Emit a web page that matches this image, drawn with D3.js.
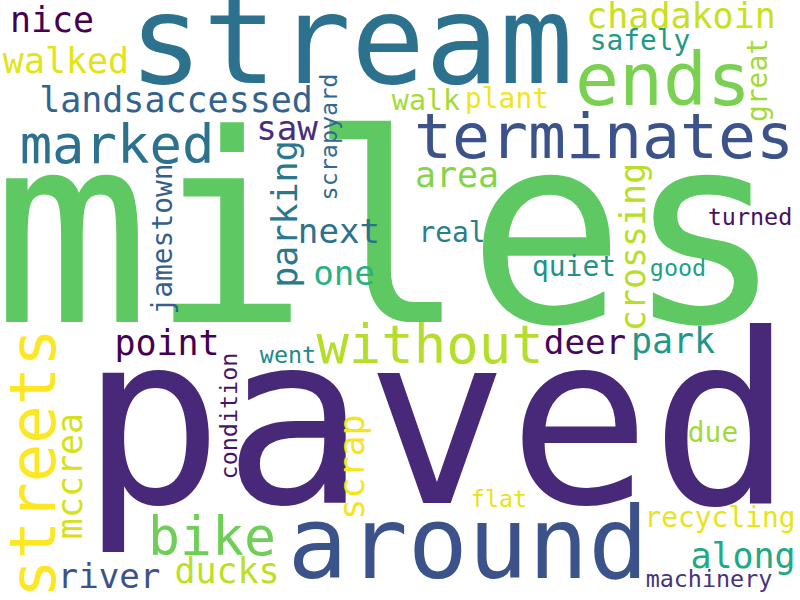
<!DOCTYPE html>
<html>
<head>
<meta charset="utf-8">
<script src="https://cdn.jsdelivr.net/npm/d3@7"></script>
<style>
  html, body { margin: 0; padding: 0; background: #ffffff; }
  svg { display: block; }
</style>
</head>
<body>
<svg id="chart" width="800" height="600"></svg>
<script>
// ---- data: words and their relative weights (largest = 100) ----
const words = [
  "miles", "paved", "stream", "around", "ends", "terminates", "streets",
  "marked", "without", "bike", "chadakoin", "landsaccessed", "walked", "nice",
  "point", "area", "saw", "next", "one", "parking", "scrap", "mccrea",
  "crossing", "deer", "park", "ducks", "along", "river", "jamestown",
  "safely", "walk", "plant", "great", "real", "quiet", "due", "recycling",
  "went", "flat", "machinery", "condition", "good", "turned", "scrapyard"
];
const weights = [
  100, 90, 46.8, 38, 27.8, 24, 24.3,
  20.5, 20.5, 20.2, 13.3, 13.3, 13.3, 13.3,
  13.3, 13.3, 13, 13, 13, 13.3, 13.3, 13.3,
  13.3, 13, 13.3, 13.3, 13.3, 13, 10.6,
  10.6, 10.8, 10.6, 10.6, 10.6, 10.6, 10.6, 10.6,
  8.9, 8.9, 8.9, 8.9, 8.9, 8.9, 8.9
];

// ---- layout (as laid out in the reference): baseline anchor + orientation ----
const layoutX = [
  388, 437, 351, 468, 663, 604, 55,
  117, 430, 212, 681, 176, 66, 52,
  167, 457, 287, 339, 344, 297, 364, 82,
  645, 585, 673, 227, 743, 109, 172,
  640, 426, 507, 767, 452, 574, 713, 720,
  288, 499, 709, 237, 678, 750, 337
];
const layoutY = [
  322, 503, 83, 578, 105, 158, 463,
  163, 363, 555, 28, 112, 73, 32,
  355, 187, 140, 243, 285, 214, 467, 476,
  247, 354, 353, 583, 568, 588, 239,
  50, 110, 108, 80, 242, 276, 442, 527,
  363, 507, 587, 416, 276, 225, 137
];
const vertical = new Set(["streets", "parking", "scrap", "mccrea", "crossing",
  "jamestown", "great", "condition", "scrapyard"]);

// ---- colours (viridis) ----
const palette = [
  "#5ec962", "#482878", "#2c728e", "#3b528b", "#7ad151", "#3b528b", "#fde725",
  "#2c728e", "#b5de2b", "#6ece58", "#c8e020", "#33638d", "#e2e418", "#440154",
  "#440154", "#84d44b", "#472d7b", "#2c728e", "#2ab07f", "#2a788e", "#f4e61e", "#d5e21a",
  "#b8de29", "#45085b", "#1f988b", "#bddf26", "#22a884", "#3b528b", "#355f8d",
  "#1f9a8a", "#a5db36", "#f1e51d", "#a2da37", "#277f8e", "#21918c", "#a0da39", "#e7e419",
  "#23888e", "#e5e419", "#46337e", "#471365", "#1fa088", "#471063", "#31688e"
];

const width = 800, height = 600;
const svg = d3.select("#chart");
svg.append("rect").attr("width", width).attr("height", height).attr("fill", "#ffffff");

const x = d3.scaleLinear().domain([0, 800]).range([0, width]);
const y = d3.scaleLinear().domain([0, 600]).range([0, height]);
const fontSize = d3.scaleLinear().domain([0, 100]).range([0, 263]);

const table = words.map((w, i) => ({
  text: w, weight: weights[i], px: layoutX[i], py: layoutY[i],
  rot: vertical.has(w) ? -90 : 0, color: palette[i]
}));

svg.append("g")
  .selectAll("text")
  .data(table)
  .join("text")
  .attr("transform", d => `translate(${x(d.px)},${y(d.py)}) rotate(${d.rot})`)
  .attr("text-anchor", "middle")
  .attr("font-family", "'DejaVu Sans Mono', 'Liberation Mono', monospace")
  .attr("font-size", d => fontSize(d.weight))
  .attr("fill", d => d.color)
  .text(d => d.text);
</script>
</body>
</html>
